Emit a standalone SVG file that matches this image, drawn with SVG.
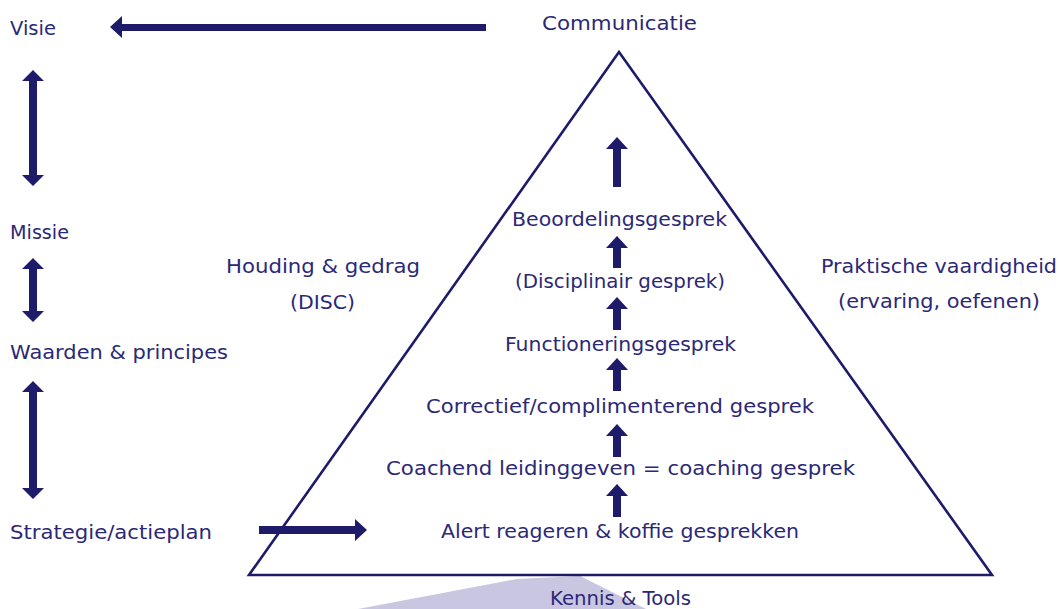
<svg xmlns="http://www.w3.org/2000/svg" width="1060" height="609" viewBox="0 0 1060 609">
<style>
text{font-family:"DejaVu Sans","Liberation Sans",sans-serif;font-size:20px;fill:#2b2877;}
.arr{fill:#1f1b6b;stroke:none;}
.tri{fill:none;stroke:#1f1b6b;stroke-width:2.6;stroke-linejoin:miter;}
</style>
<rect width="1060" height="609" fill="#ffffff"/>
<polygon points="358,609 517,579 580,576 646,609" fill="#c8c6e0"/>
<g id="pyramid">
<polygon class="tri" points="619,52 992,575 249,575"/>
</g>
<g id="connectors">
<path class="arr" d="M110,27 L122,16 L122,24 L486,24 L486,31 L122,31 L122,38 Z"/>
<path class="arr" d="M33,70 L44,81 L37,81 L37,175 L44,175 L33,186 L22,175 L29,175 L29,81 L22,81 Z"/>
<path class="arr" d="M33,258 L44,269 L37,269 L37,311 L44,311 L33,322 L22,311 L29,311 L29,269 L22,269 Z"/>
<path class="arr" d="M33,381 L44,392 L37,392 L37,488 L44,488 L33,499 L22,488 L29,488 L29,392 L22,392 Z"/>
<path class="arr" d="M367,530 L355,519 L355,526 L259,526 L259,534 L355,534 L355,541 Z"/>
<path class="arr" d="M617,137 L628,149 L621,149 L621,187 L613,187 L613,149 L606,149 Z"/>
<path class="arr" d="M617,236 L628,248 L621,248 L621,268 L613,268 L613,248 L606,248 Z"/>
<path class="arr" d="M617,297 L628,309 L621,309 L621,330 L613,330 L613,309 L606,309 Z"/>
<path class="arr" d="M617,358 L628,370 L621,370 L621,391 L613,391 L613,370 L606,370 Z"/>
<path class="arr" d="M617,424 L628,436 L621,436 L621,457 L613,457 L613,436 L606,436 Z"/>
<path class="arr" d="M617,484 L628,496 L621,496 L621,517 L613,517 L613,496 L606,496 Z"/>
</g>
<g id="visie"><text x="10" y="35" textLength="46" lengthAdjust="spacingAndGlyphs">Visie</text></g>
<g id="communicatie"><text x="542" y="30" textLength="155" lengthAdjust="spacingAndGlyphs">Communicatie</text></g>
<g id="missie"><text x="10" y="239" textLength="59" lengthAdjust="spacingAndGlyphs">Missie</text></g>
<g id="waarden"><text x="10" y="359" textLength="218" lengthAdjust="spacingAndGlyphs">Waarden &amp; principes</text></g>
<g id="strategie"><text x="10" y="539" textLength="202" lengthAdjust="spacingAndGlyphs">Strategie/actieplan</text></g>
<g id="houding">
<text x="226" y="273" textLength="194" lengthAdjust="spacingAndGlyphs">Houding &amp; gedrag</text>
<text x="290" y="309" textLength="65" lengthAdjust="spacingAndGlyphs">(DISC)</text>
</g>
<g id="praktisch">
<text x="821" y="273" textLength="236" lengthAdjust="spacingAndGlyphs">Praktische vaardigheid</text>
<text x="838" y="308" textLength="202" lengthAdjust="spacingAndGlyphs">(ervaring, oefenen)</text>
</g>
<g id="beoordeling"><text x="512" y="226" textLength="215" lengthAdjust="spacingAndGlyphs">Beoordelingsgesprek</text></g>
<g id="disciplinair"><text x="515" y="288" textLength="210" lengthAdjust="spacingAndGlyphs">(Disciplinair gesprek)</text></g>
<g id="functionering"><text x="505" y="351" textLength="231" lengthAdjust="spacingAndGlyphs">Functioneringsgesprek</text></g>
<g id="correctief"><text x="426" y="413" textLength="388" lengthAdjust="spacingAndGlyphs">Correctief/complimenterend gesprek</text></g>
<g id="coachend"><text x="386" y="475" textLength="469" lengthAdjust="spacingAndGlyphs">Coachend leidinggeven = coaching gesprek</text></g>
<g id="alert"><text x="441" y="538" textLength="358" lengthAdjust="spacingAndGlyphs">Alert reageren &amp; koffie gesprekken</text></g>
<g id="kennis"><text x="550" y="605" textLength="141" lengthAdjust="spacingAndGlyphs">Kennis &amp; Tools</text></g>
</svg>
